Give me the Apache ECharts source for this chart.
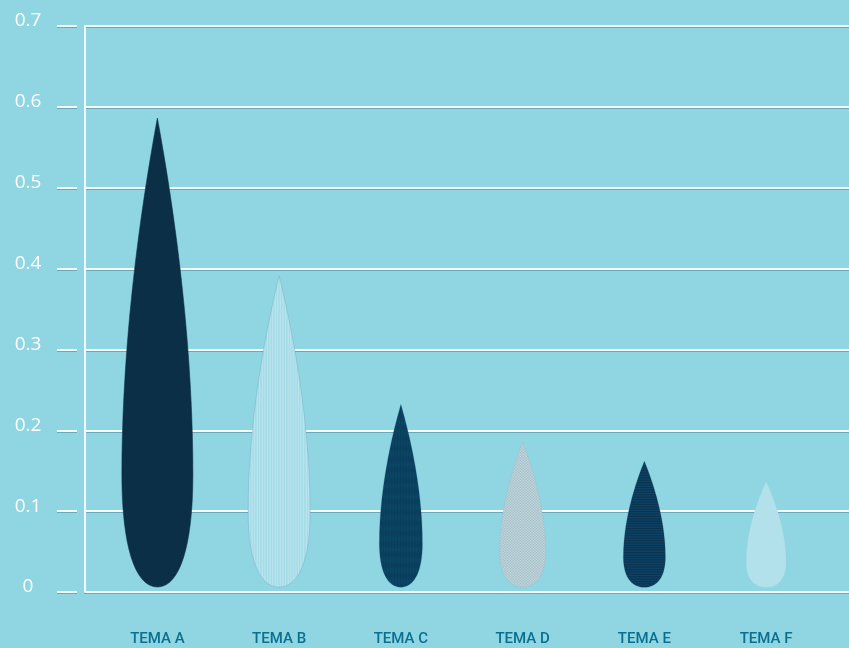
<!DOCTYPE html>
<html>
<head>
<meta charset="utf-8">
<script src="https://cdn.jsdelivr.net/npm/echarts@6/dist/echarts.min.js"></script>
<style>
html,body{margin:0;padding:0;background:#8fd5e2;}
#chart{width:849px;height:648px;}
</style>
</head>
<body>
<div id="chart"></div>
<script>
// ---- data ----
var categories = ['TEMA A', 'TEMA B', 'TEMA C', 'TEMA D', 'TEMA E', 'TEMA F'];
var values = [0.58, 0.385, 0.226, 0.18, 0.156, 0.131];
var yTicks = [0, 0.1, 0.2, 0.3, 0.4, 0.5, 0.6, 0.7];

// ---- style ----
var dropWidths = [71, 62, 43, 46, 42, 40];
var dropPath = 'path://M50 0 C62 10 100 42 100 76 C100 91 82 100 50 100 C18 100 0 91 0 76 C0 42 38 10 50 0 Z';

function makePattern(bg, fg, kind) {
  var c = document.createElement('canvas');
  c.width = 4; c.height = 4;
  var g = c.getContext('2d');
  g.fillStyle = bg; g.fillRect(0, 0, 4, 4);
  g.fillStyle = fg;
  if (kind === 'v') { g.fillRect(0, 0, 2, 4); }
  else if (kind === 'h') { g.fillRect(0, 0, 4, 1); g.fillRect(0, 2, 4, 1); }
  else if (kind === 'grid') { g.fillRect(0, 0, 4, 1); g.fillRect(0, 0, 1, 4); g.fillRect(0, 2, 4, 1); g.fillRect(2, 0, 1, 4); }
  else if (kind === 'check') { g.fillRect(0, 0, 1, 1); g.fillRect(2, 0, 1, 1); g.fillRect(1, 1, 1, 1); g.fillRect(3, 1, 1, 1); g.fillRect(0, 2, 1, 1); g.fillRect(2, 2, 1, 1); g.fillRect(1, 3, 1, 1); g.fillRect(3, 3, 1, 1); }
  return { image: c, repeat: 'repeat' };
}

var fills = [
  '#0a2f47',
  makePattern('#a6dbe8', '#b5e3ee', 'v'),
  makePattern('#0c4b6c', '#0a3f5c', 'grid'),
  makePattern('#c9dde3', '#9fbac3', 'check'),
  makePattern('#0a3350', '#0f4466', 'h'),
  '#b2e1ec'
];
var borders = ['#0a2f47', 'rgba(110,150,165,0.8)', '#0b4a6b', 'rgba(140,170,180,0.8)', '#0a3350', 'rgba(150,200,215,0.9)'];

var seriesData = values.map(function (v, i) {
  return {
    value: v,
    symbolSize: [dropWidths[i], '100%'],
    itemStyle: { color: fills[i], borderColor: borders[i], borderWidth: 0.8 }
  };
});

var chart = echarts.init(document.getElementById('chart'), null, { renderer: 'canvas' });
var gridLine = { color: '#f2fafc', width: 2, shadowColor: 'rgba(40,90,110,0.35)', shadowOffsetY: 1, shadowBlur: 0 };

chart.setOption({
  backgroundColor: '#8fd5e2',
  animation: false,
  grid: [
    { left: 85, right: 0, top: 26, bottom: 56 },
    { left: 96.5, right: 22, top: 26, bottom: 56 }
  ],
  xAxis: [
    { type: 'category', gridIndex: 0, data: categories, show: false },
    {
      type: 'category', gridIndex: 1, data: categories,
      axisLine: { show: false }, axisTick: { show: false },
      axisLabel: { color: '#0b7090', fontFamily: 'Roboto, sans-serif', fontWeight: 500, fontSize: 15, margin: 40 }
    }
  ],
  yAxis: [
    {
      type: 'value', gridIndex: 0, min: 0, max: 0.7, interval: 0.1,
      axisLine: { show: true, lineStyle: gridLine },
      axisTick: { show: false },
      axisLabel: { show: false },
      splitLine: { show: true, lineStyle: gridLine }
    },
    {
      type: 'value', gridIndex: 0, min: 0, max: 0.7, interval: 0.1, position: 'left', offset: 8,
      axisLine: { show: false },
      axisTick: { show: true, length: 20, lineStyle: gridLine },
      splitLine: { show: false },
      axisLabel: {
        color: '#ffffff', fontFamily: 'Open Sans, sans-serif', fontSize: 19, align: 'center', margin: 49,
        verticalAlign: 'bottom', lineHeight: 10,
        formatter: function (v) { var r = Math.round(v * 10) / 10; return yTicks.indexOf(r) >= 0 ? String(r) : ''; }
      }
    },
    { type: 'value', gridIndex: 1, min: 0, max: 0.7, interval: 0.1, show: false }
  ],
  series: [{
    type: 'pictorialBar',
    xAxisIndex: 1, yAxisIndex: 2,
    symbol: dropPath,
    symbolOffset: [0, -4],
    symbolClip: false,
    data: seriesData
  }]
});
</script>
</body>
</html>
